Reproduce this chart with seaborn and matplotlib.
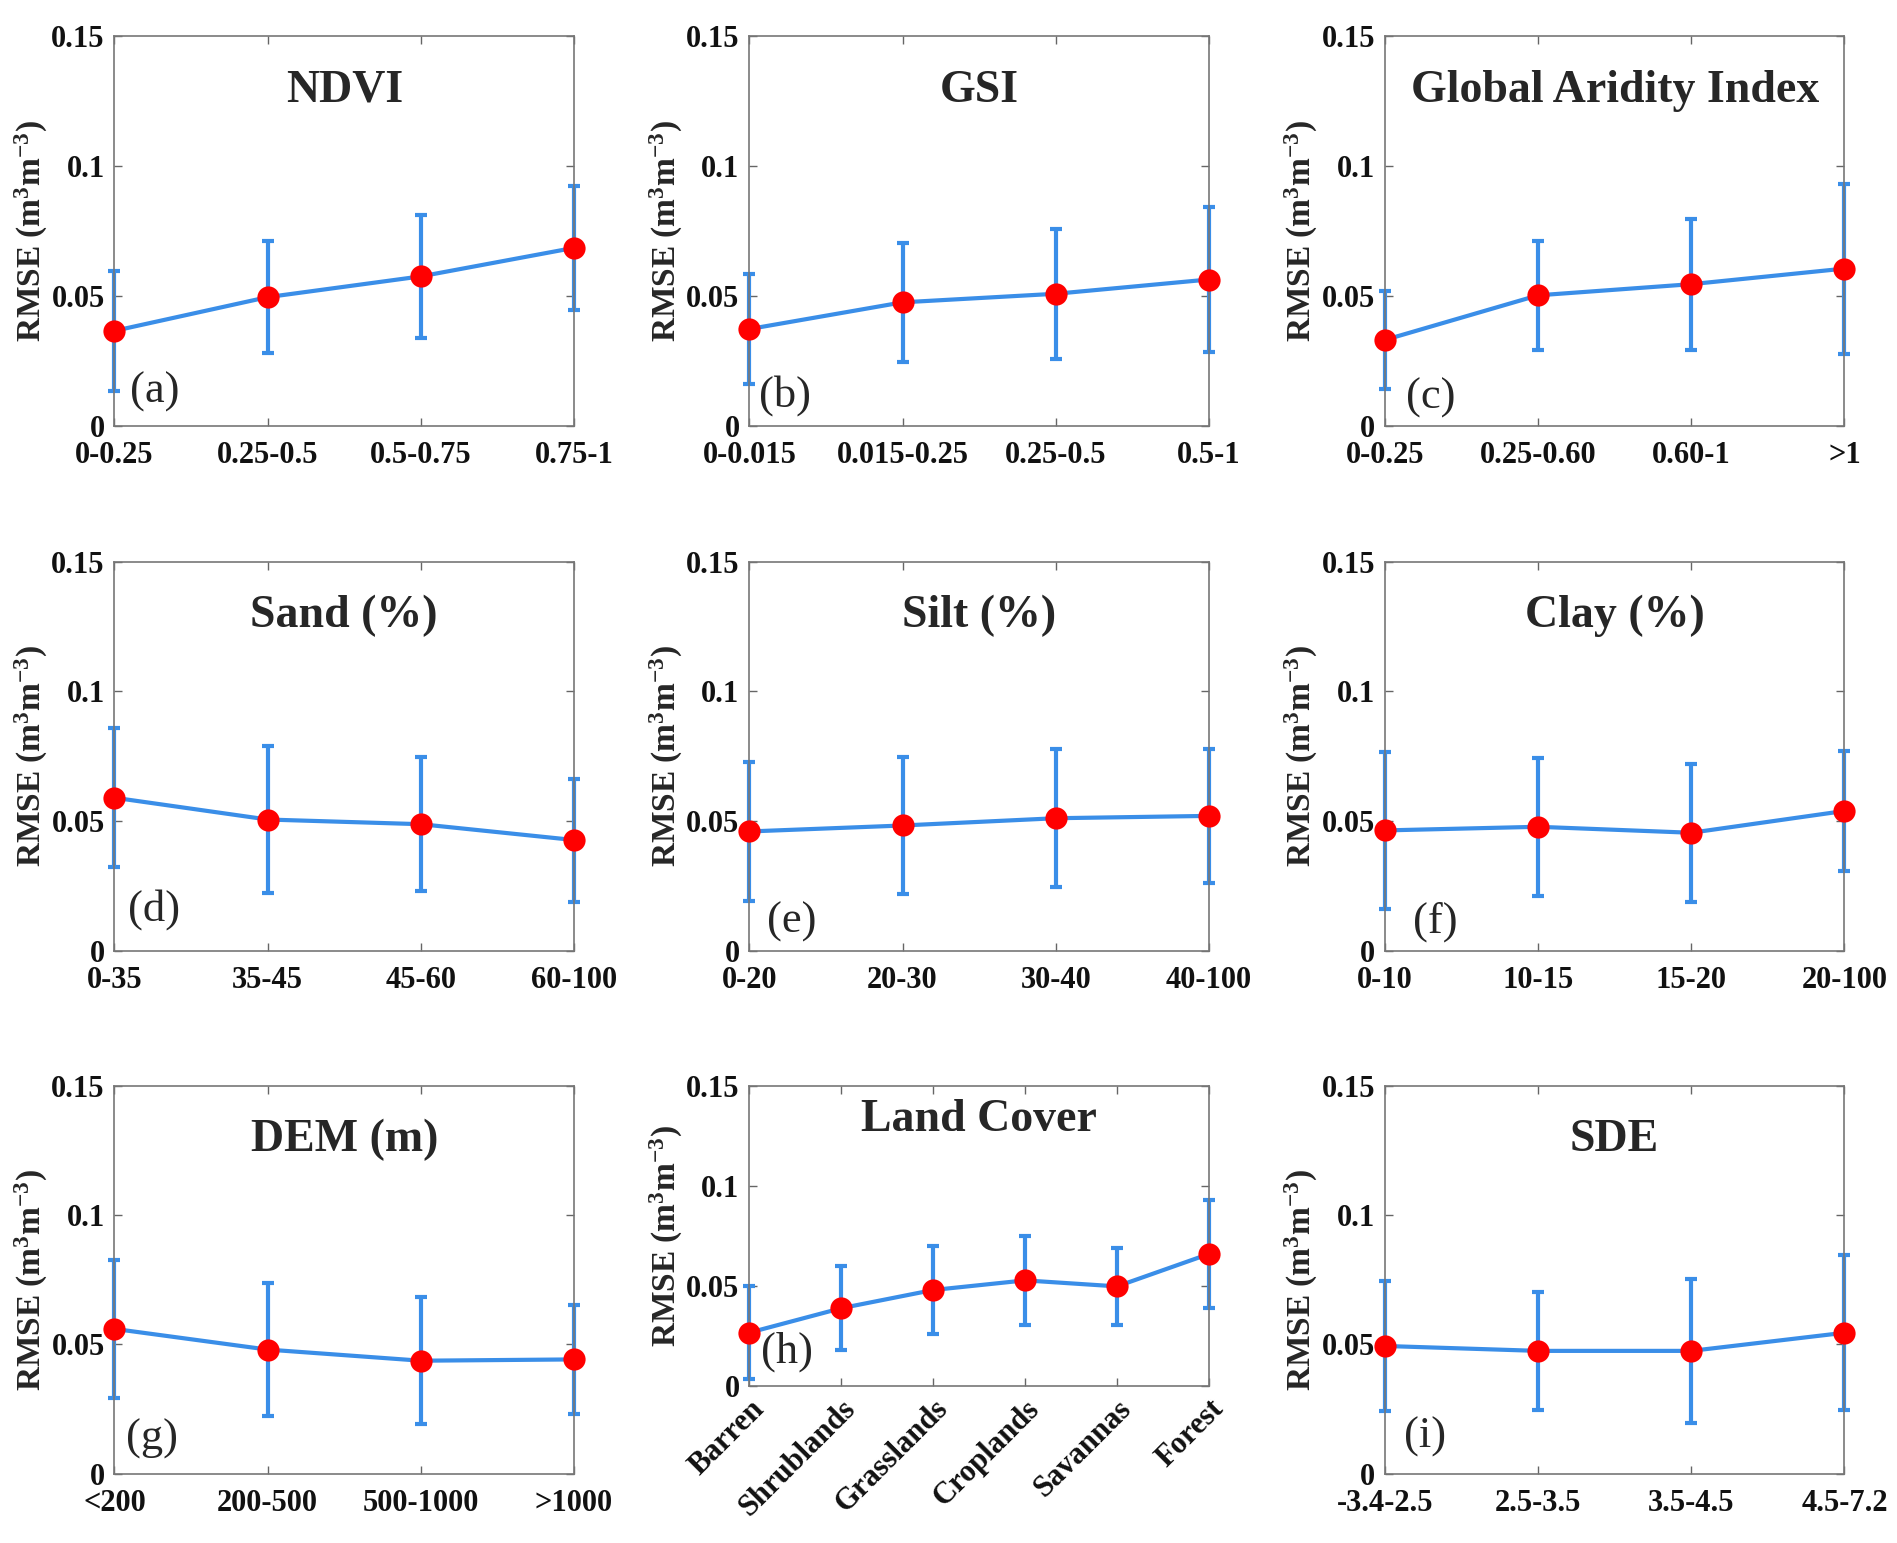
import numpy as np
import pandas as pd
import seaborn as sns
import matplotlib.pyplot as plt

sns.set_style("ticks")
plt.rcParams['font.family'] = ['Liberation Serif', 'DejaVu Serif']
plt.rcParams['mathtext.fontset'] = 'custom'
plt.rcParams['mathtext.rm'] = 'Liberation Serif:bold'
plt.rcParams['mathtext.bf'] = 'Liberation Serif:bold'
plt.rcParams['mathtext.it'] = 'Liberation Serif:bold'

# ---- data ----
titles = ["NDVI", "GSI", "Global Aridity Index",
          "Sand (%)", "Silt (%)", "Clay (%)",
          "DEM (m)", "Land Cover", "SDE"]
letters = ["(a)", "(b)", "(c)", "(d)", "(e)", "(f)", "(g)", "(h)", "(i)"]

ndvi_bins = ["0-0.25", "0.25-0.5", "0.5-0.75", "0.75-1"]
ndvi_rmse = [0.0365, 0.0495, 0.0575, 0.0685]
ndvi_std = [0.0232, 0.0215, 0.0236, 0.0240]

gsi_bins = ["0-0.015", "0.015-0.25", "0.25-0.5", "0.5-1"]
gsi_rmse = [0.0372, 0.0475, 0.0508, 0.0563]
gsi_std = [0.0213, 0.0230, 0.0250, 0.0278]

ai_bins = ["0-0.25", "0.25-0.60", "0.60-1", ">1"]
ai_rmse = [0.0330, 0.0502, 0.0545, 0.0605]
ai_std = [0.0188, 0.0210, 0.0253, 0.0328]

sand_bins = ["0-35", "35-45", "45-60", "60-100"]
sand_rmse = [0.0590, 0.0506, 0.0488, 0.0427]
sand_std = [0.0268, 0.0284, 0.0258, 0.0237]

silt_bins = ["0-20", "20-30", "30-40", "40-100"]
silt_rmse = [0.0460, 0.0483, 0.0511, 0.0520]
silt_std = [0.0268, 0.0265, 0.0267, 0.0258]

clay_bins = ["0-10", "10-15", "15-20", "20-100"]
clay_rmse = [0.0464, 0.0478, 0.0455, 0.0539]
clay_std = [0.0303, 0.0267, 0.0265, 0.0230]

dem_bins = ["<200", "200-500", "500-1000", ">1000"]
dem_rmse = [0.0560, 0.0480, 0.0437, 0.0442]
dem_std = [0.0268, 0.0256, 0.0245, 0.0210]

lc_bins = ["Barren", "Shrublands", "Grasslands", "Croplands", "Savannas", "Forest"]
lc_rmse = [0.0267, 0.0389, 0.0480, 0.0528, 0.0498, 0.0660]
lc_std = [0.0231, 0.0210, 0.0222, 0.0222, 0.0191, 0.0268]

sde_bins = ["-3.4-2.5", "2.5-3.5", "3.5-4.5", "4.5-7.2"]
sde_rmse = [0.0494, 0.0475, 0.0475, 0.0545]
sde_std = [0.0252, 0.0228, 0.0278, 0.0300]

panels = [
    (ndvi_bins, ndvi_rmse, ndvi_std),
    (gsi_bins, gsi_rmse, gsi_std),
    (ai_bins, ai_rmse, ai_std),
    (sand_bins, sand_rmse, sand_std),
    (silt_bins, silt_rmse, silt_std),
    (clay_bins, clay_rmse, clay_std),
    (dem_bins, dem_rmse, dem_std),
    (lc_bins, lc_rmse, lc_std),
    (sde_bins, sde_rmse, sde_std),
]

# ---- layout ----
line_blue = "#3a8ee8"
lefts = [0.0603, 0.395, 0.730]
rows = [(0.7242, 0.2522), (0.3838, 0.2522), (0.0449, 0.2514)]
w = 0.2423
letter_pos = [(0.087, 0.0875), (0.077, 0.078), (0.10, 0.072),
              (0.087, 0.106), (0.093, 0.075), (0.11, 0.075),
              (0.082, 0.09), (0.082, 0.113), (0.087, 0.094)]

fig = plt.figure(figsize=(18.97, 15.43), dpi=100)

for k, (bins, rmse, std) in enumerate(panels):
    r, c = divmod(k, 3)
    bottom, h = rows[r]
    if k == 7:
        # land cover panel is shorter to make room for rotated labels
        bottom, h = 0.1017, 0.1946
    ax = fig.add_axes([lefts[c], bottom, w, h])

    df = pd.DataFrame({"pos": np.arange(len(bins)), "rmse": rmse, "std": std})

    ax.errorbar(df["pos"], df["rmse"], yerr=df["std"], fmt="none",
                ecolor=line_blue, elinewidth=3, capsize=4, capthick=3,
                clip_on=False, zorder=2)
    sns.lineplot(data=df, x="pos", y="rmse", ax=ax, color=line_blue,
                 linewidth=3, zorder=3, clip_on=False)
    ax.plot(df["pos"], df["rmse"], "o", color="#ff0000", markersize=16,
            markeredgewidth=0, zorder=4, clip_on=False)

    ax.set_xlim(0, len(bins) - 1)
    ax.set_ylim(0, 0.15)
    ax.set_yticks([0, 0.05, 0.1, 0.15])
    ax.set_yticklabels(["0", "0.05", "0.1", "0.15"])
    ax.set_xticks(df["pos"])
    if k == 7:
        ax.set_xticklabels(bins, rotation=45, ha="right", rotation_mode="anchor")
    else:
        ax.set_xticklabels(bins)

    ax.tick_params(direction="in", length=6, width=1, top=True, right=True,
                   labelsize=22, colors="#666666", labelcolor="#111111")
    ax.tick_params(axis="x", pad=6 if k == 7 else 11)
    ax.tick_params(axis="y", pad=7)
    for t in ax.get_xticklabels() + ax.get_yticklabels():
        t.set_fontweight("bold")
    for s in ax.spines.values():
        s.set_color("#777777")
        s.set_linewidth(1.2)

    ax.set_xlabel("")
    ax.set_ylabel("RMSE (m$^{3}$m$^{-3}$)", fontsize=24, fontweight="bold",
                  labelpad=1)

    ty = 0.887 if k == 7 else 0.86
    ax.text(0.5, ty, titles[k], transform=ax.transAxes, ha="center",
            va="center", fontsize=33, fontweight="bold")
    lx, ly = letter_pos[k]
    ax.text(lx, ly, letters[k], transform=ax.transAxes, ha="center",
            va="center", fontsize=32)

fig.savefig("out.png", dpi=100, facecolor="white")
